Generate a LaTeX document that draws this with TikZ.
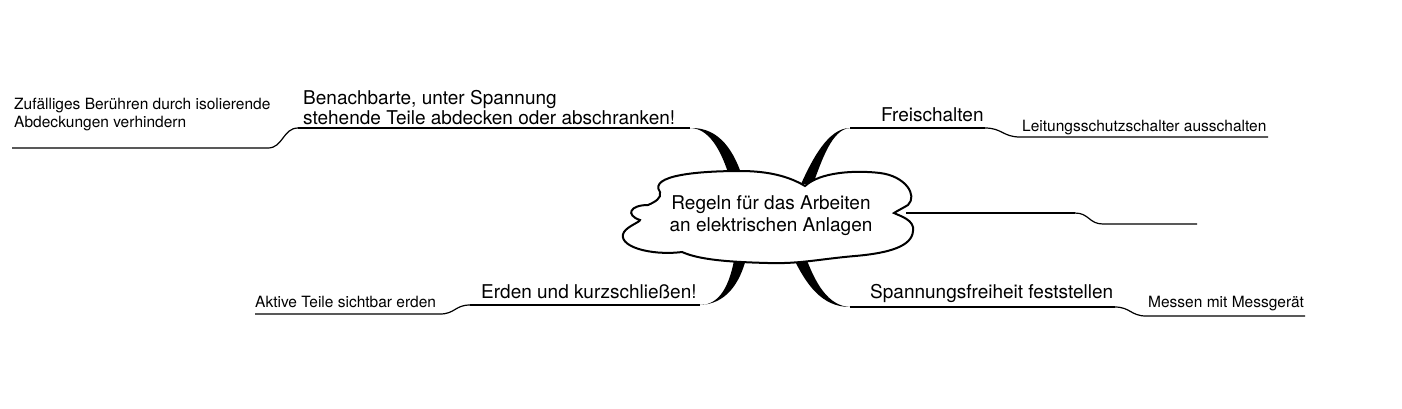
\documentclass[tikz,border=0pt]{standalone}
\usepackage{fontspec}
\setmainfont{TeX Gyre Heros}
\begin{document}
\begin{tikzpicture}[x=1pt,y=-1pt,
  main/.style={font=\fontsize{19}{20}\selectfont, anchor=base west, inner sep=0pt},
  sub/.style={font=\fontsize{15.5}{17.5}\selectfont, anchor=base west, inner sep=0pt, align=left},
  limb/.style={line width=1.6pt},
  twig/.style={line width=1.2pt}]
\useasboundingbox (0,0) rectangle (1402,408);

% junctions
\coordinate (ul) at (690,128);
\coordinate (ul-s) at (298,128);
\coordinate (ul-t) at (268,148);
\coordinate (ul-e) at (12,148);
\coordinate (ur) at (850,128);
\coordinate (ur-s) at (985,128);
\coordinate (ur-t) at (1020,137);
\coordinate (ur-e) at (1268,137);
\coordinate (mr) at (906,213);
\coordinate (mr-s) at (1075,213);
\coordinate (mr-t) at (1103,224);
\coordinate (mr-e) at (1197,224);
\coordinate (lr) at (850,307);
\coordinate (lr-s) at (1115,307);
\coordinate (lr-t) at (1146,316);
\coordinate (lr-e) at (1305,316);
\coordinate (ll) at (700,305);
\coordinate (ll-s) at (470,305);
\coordinate (ll-t) at (440,314);
\coordinate (ll-e) at (255,314);

% thick branches
\fill (ul) .. controls (712,128) and (724,158) .. (731,182) -- (744,182) .. controls (735,152) and (720,127) .. (ul) -- cycle;
\fill (ur) .. controls (828,128) and (812,160) .. (801,184) -- (813,184) .. controls (822,160) and (832,129) .. (ur) -- cycle;
\fill (lr) .. controls (822,307) and (806,285) .. (792,255) -- (805,255) .. controls (815,283) and (828,306) .. (lr) -- cycle;
\fill (ll) .. controls (720,305) and (730,285) .. (735,255) -- (747,255) .. controls (740,285) and (725,304) .. (ll) -- cycle;

% lines
\draw[limb] (ul) -- (ul-s);
\draw[twig] (ul-s) .. controls (283,128) and (283,148) .. (ul-t) -- (ul-e);
\draw[limb] (ur) -- (ur-s);
\draw[twig] (ur-s) .. controls (1002,128) and (1003,137) .. (ur-t) -- (ur-e);
\draw[limb] (mr) -- (mr-s);
\draw[twig] (mr-s) .. controls (1089,213) and (1089,224) .. (mr-t) -- (mr-e);
\draw[limb] (lr) -- (lr-s);
\draw[twig] (lr-s) .. controls (1130,307) and (1131,316) .. (lr-t) -- (lr-e);
\draw[limb] (ll) -- (ll-s);
\draw[twig] (ll-s) .. controls (455,305) and (455,314) .. (ll-t) -- (ll-e);

% cloud
\draw[line width=2pt, fill=white] (660,192)
  .. controls (648,175) and (700,171) .. (740,171)
  .. controls (770,171) and (790,177) .. (805,186)
  .. controls (820,172) and (855,170) .. (880,173)
  .. controls (905,176) and (918,195) .. (908,205)
  .. controls (903,208) and (897,211) .. (894,213)
  .. controls (900,216) and (915,220) .. (913,231)
  .. controls (912,246) and (890,253) .. (855,256)
  .. controls (820,259) and (800,264) .. (768,263)
  .. controls (730,262) and (700,260) .. (682,252)
  .. controls (650,256) and (616,246) .. (624,232)
  .. controls (628,226) and (640,222) .. (640,220)
  .. controls (625,215) and (630,205) .. (648,205)
  .. controls (655,202) and (662,198) .. (660,192) -- cycle;
\node[main, anchor=center, align=center, font=\fontsize{19}{22}\selectfont] (centre) at (771,216) {Regeln für das Arbeiten\\an elektrischen Anlagen};

% labels
\node[main] (abdeck-a) at (303,104) {Benachbarte, unter Spannung};
\node[main] (abdeck-b) at (303,124) {stehende Teile abdecken oder abschranken!};
\node[sub] (zufall) at (14,127) {Zufälliges Berühren durch isolierende\\Abdeckungen verhindern};
\node[main] (frei) at (881,121) {Freischalten};
\node[sub] (lss) at (1022,131) {Leitungsschutzschalter ausschalten};
\node[main] (spannung) at (870,298) {Spannungsfreiheit feststellen};
\node[sub] (messen) at (1148,307) {Messen mit Messgerät};
\node[main] (erden) at (481,298) {Erden und kurzschließen!};
\node[sub] (aktiv) at (255,307) {Aktive Teile sichtbar erden};
\end{tikzpicture}
\end{document}
